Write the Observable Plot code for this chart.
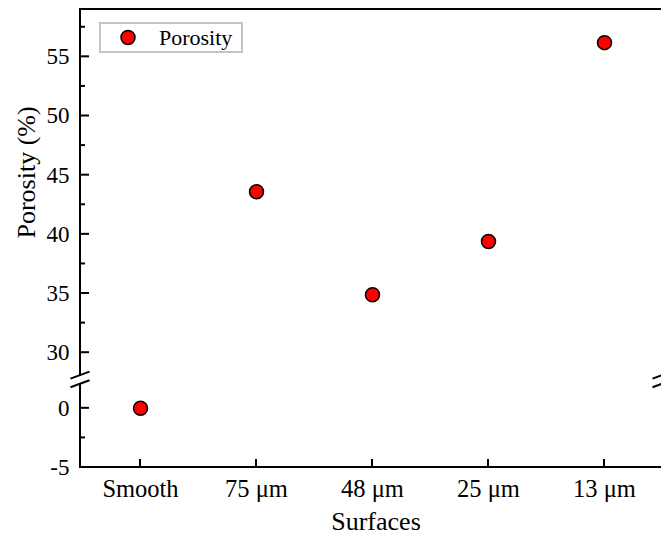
<!DOCTYPE html>
<html><head><meta charset="utf-8">
<script src="https://cdn.jsdelivr.net/npm/d3@7"></script>
<script src="https://cdn.jsdelivr.net/npm/@observablehq/plot@0.6"></script>
<style>html,body{margin:0;padding:0;background:#fff;overflow:hidden;}</style>
</head><body><div id="chart"></div>
<script>
// ---- data ----
const surfaces = ["Smooth", "75 μm", "48 μm", "25 μm", "13 μm"];
const porosity = [0, 43.6, 34.9, 39.4, 56.2];
const yMajorTicks = [-5, 0, 30, 35, 40, 45, 50, 55];
const yMinorTicks = [-2.5, 32.5, 37.5, 42.5, 47.5, 52.5, 57.5];
const yExtent = [-5, 59];
const yBreak = [2.4, 27.7];
const seriesName = "Porosity";
const xTitle = "Surfaces";
const yTitle = "Porosity (%)";

const data = surfaces.map((s, i) => ({surface: s, porosity: porosity[i]}));

// ---- layout ----
const W = 661, H = 538, mL = 80, mT = 9, mB = 71, mR = 0;
const bottomPx = H - mB, topPx = mT;
const k = (bottomPx - topPx) / ((yBreak[0] - yExtent[0]) + (yExtent[1] - yBreak[1]));
const breakPx = bottomPx - (yBreak[0] - yExtent[0]) * k;
const FONT = "'Liberation Serif', 'Times New Roman', serif";

function frameAndTicks(index, scales, values, dims) {
  const {x, y} = scales;
  const left = dims.marginLeft, top = dims.marginTop, bottom = dims.height - dims.marginBottom;
  const step = x(surfaces[1]) - x(surfaces[0]);
  const right = x(surfaces[surfaces.length - 1]) + step / 2;
  const yb = y(yBreak[0]);
  const gap = 4.3;
  const g = d3.create("svg:g").attr("fill", "none").attr("stroke", "#000").attr("stroke-width", 2);
  const line = (x1, y1, x2, y2) => g.append("line").attr("x1", x1).attr("y1", y1).attr("x2", x2).attr("y2", y2);
  // frame
  line(left, top, left, yb - gap);
  line(left, yb + gap, left, bottom + 1);
  line(right, top, right, yb - gap);
  line(right, yb + gap, right, bottom + 1);
  line(left - 1, top, right + 1, top);
  line(left - 1, bottom, right + 1, bottom);
  // y ticks (inward)
  for (const v of yMajorTicks) line(left, y(v), left + 9, y(v));
  for (const v of yMinorTicks) line(left, y(v), left + 5, y(v));
  // x ticks (inward)
  for (const s of surfaces) line(x(s), bottom, x(s), bottom - 8);
  // break marks
  for (const cx of [left, right]) {
    for (const off of [-gap, gap]) line(cx - 9.5, yb + off + 3.5, cx + 9.5, yb + off - 3.5);
  }
  return g.node();
}

function legend(index, scales, values, dims) {
  const x0 = dims.marginLeft + 20, y0 = dims.marginTop + 14;
  const g = d3.create("svg:g");
  g.append("rect").attr("x", x0).attr("y", y0).attr("width", 142).attr("height", 29)
    .attr("fill", "white").attr("stroke", "#c4c4c4").attr("stroke-width", 2);
  g.append("circle").attr("cx", x0 + 28).attr("cy", y0 + 14.5).attr("r", 7)
    .attr("fill", "#ff0000").attr("stroke", "#000").attr("stroke-width", 1.5);
  g.append("text").attr("x", x0 + 59).attr("y", y0 + 14.5).attr("dy", "0.34em")
    .attr("text-anchor", "start")
    .attr("font-size", 22).attr("font-family", FONT).attr("fill", "#000").text(seriesName);
  return g.node();
}

const chart = Plot.plot({
  width: W, height: H,
  marginLeft: mL, marginRight: mR, marginTop: mT, marginBottom: mB,
  style: {fontFamily: FONT, fontSize: "22px", background: "white", overflow: "hidden"},
  x: {type: "point", domain: surfaces, range: [mL, W + 2], padding: 0.5},
  y: {type: "linear",
      domain: [yExtent[0], yBreak[0], yBreak[1], yExtent[1]],
      range: [bottomPx, breakPx, breakPx, topPx]},
  marks: [
    Plot.axisY(yMajorTicks, {tickSize: 0, tickPadding: 11, fontSize: 23, tickFormat: d => String(d), label: null, fill: "#000"}),
    Plot.axisX({tickSize: 0, tickPadding: 12.5, fontSize: 24.5, label: null, fill: "#000"}),
    frameAndTicks,
    Plot.text([yTitle], {frameAnchor: "left", lineAnchor: "middle", text: d => d, rotate: -90, dx: -54, fontSize: 26, fill: "#000"}),
    Plot.text([xTitle], {frameAnchor: "bottom", lineAnchor: "middle", text: d => d, dx: 5, dy: 54.5, fontSize: 26, fill: "#000"}),
    Plot.dot(data, {x: "surface", y: "porosity", r: 7, fill: "#ff0000", stroke: "#000", strokeWidth: 1.5}),
    legend
  ]
});
document.getElementById("chart").appendChild(chart);
</script>
</body></html>
